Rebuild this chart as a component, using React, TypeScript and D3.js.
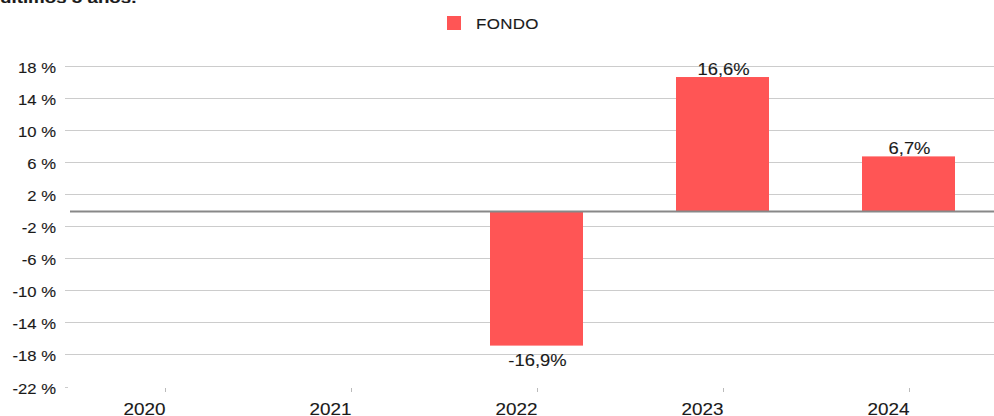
import React, { useEffect, useRef } from "react";
import * as d3 from "d3";

const categories = ["2020", "2021", "2022", "2023", "2024"];
const fondoValues: (number | null)[] = [null, null, -16.9, 16.6, 6.7];
const valueLabels = ["", "", "-16,9%", "16,6%", "6,7%"];
const yTicks = [18, 14, 10, 6, 2, -2, -6, -10, -14, -18, -22];
const seriesName = "FONDO";
const titleText = "últimos 5 años.";

const W = 994;
const H = 416;
const FONT = "'Liberation Sans', Arial, sans-serif";
const RED = "#ff5555";
const SX = 1.15;

export default function App() {
  const ref = useRef<SVGSVGElement>(null);

  useEffect(() => {
    document.body.style.margin = "0";
    const svg = d3.select(ref.current);
    svg.selectAll("*").remove();

    const x = d3.scaleBand<string>().domain(categories).range([71.5, 1001.5]).paddingInner(0).paddingOuter(0);
    const y = d3.scaleLinear().domain([-22, 18]).range([386.5, 65.8]);

    const txt = (
      tx: number, ty: number, s: string, size: number, anchor: string,
      sx: number, weight = "normal"
    ) =>
      svg.append("text")
        .attr("transform", `translate(${tx},${ty}) scale(${sx},1)`)
        .attr("text-anchor", anchor)
        .attr("font-family", FONT).attr("font-size", size).attr("font-weight", weight)
        .attr("fill", "#1a1a1a").attr("stroke", "#1a1a1a").attr("stroke-width", 0.12)
        .text(s);

    // title fragment (cut off at top)
    txt(0, 3, titleText, 15, "start", 1.25, "bold");

    // legend
    svg.append("rect").attr("x", 447).attr("y", 16).attr("width", 14).attr("height", 14).attr("fill", RED);
    txt(476, 29, seriesName, 15, "start", 1.13).attr("letter-spacing", 0.3);

    // gridlines + y labels
    yTicks.forEach((t) => {
      const yy = Math.round(y(t)) + 0.5;
      svg.append("line").attr("x1", 65).attr("x2", t !== -22 ? W : 68).attr("y1", yy).attr("y2", yy)
        .attr("stroke", "#cccccc").attr("stroke-width", 1);
      txt(56, y(t) + 7, `${t} %`, 15, "end", 1.11);
    });

    // bars
    categories.forEach((c, i) => {
      const v = fondoValues[i];
      if (v == null) return;
      const bw = x.bandwidth() / 2;
      const bx = (x(c) as number) + x.bandwidth() / 2 - bw / 2;
      const y0 = y(0) + 1.5;
      const y1 = y(v);
      svg.append("rect").attr("x", bx).attr("width", bw)
        .attr("y", Math.min(y0, y1)).attr("height", Math.abs(y1 - y0))
        .attr("fill", RED);
      const cx = (x(c) as number) + x.bandwidth() / 2 + 1;
      txt(cx, v >= 0 ? y1 - 2 : y1 + 20, valueLabels[i], 16, "middle", SX);
    });

    // zero line
    svg.append("line").attr("x1", 70).attr("x2", W).attr("y1", y(0) + 1.5).attr("y2", y(0) + 1.5)
      .attr("stroke", "#888888").attr("stroke-width", 2);

    // x ticks and labels
    categories.forEach((c) => {
      const cx = Math.round((x(c) as number) + x.bandwidth() / 2) + 0.5;
      svg.append("line").attr("x1", cx).attr("x2", cx).attr("y1", 388).attr("y2", 392)
        .attr("stroke", "#bbbbbb").attr("stroke-width", 1);
      txt(cx, 414.5, c, 16, "end", 1.18);
    });
  }, []);

  return <svg ref={ref} width={W} height={H} style={{ display: "block" }} />;
}
